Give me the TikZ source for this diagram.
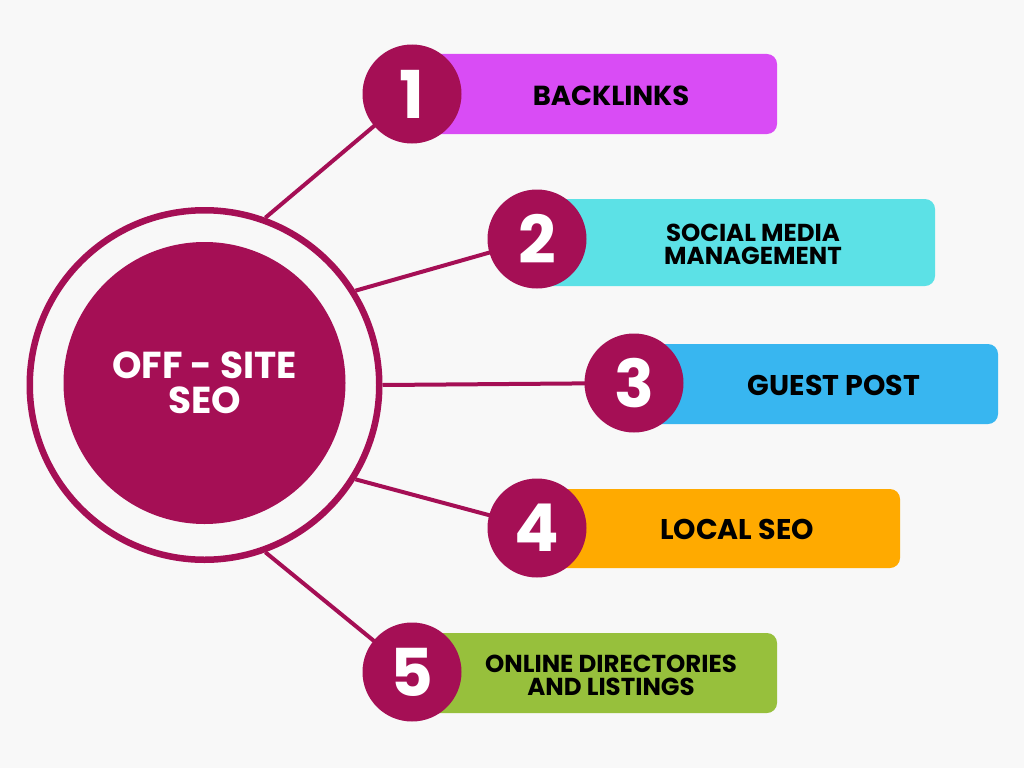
\documentclass[tikz,border=0pt]{standalone}
\usepackage{fontspec}
\setmainfont{Poppins}
\definecolor{bgc}{HTML}{F8F8F8}
\definecolor{maroon}{HTML}{A50F55}
\definecolor{cA}{HTML}{D94CF5}
\definecolor{cB}{HTML}{5CE1E6}
\definecolor{cC}{HTML}{38B6F0}
\definecolor{cD}{HTML}{FFAA00}
\definecolor{cE}{HTML}{97C03C}
\pgfdeclarelayer{bglayer}
\pgfdeclarelayer{linelayer}
\pgfsetlayers{bglayer,linelayer,main}
\tikzset{
  numcirc/.style={circle, fill=maroon, minimum size=99pt, inner sep=0pt, text=white, font=\fontsize{66}{66}\selectfont\bfseries},
  bar/.style={rounded corners=10pt, inner sep=0pt},
  lbl/.style={align=center, text=black, font=\fontsize{24.5}{23}\selectfont\bfseries},
  lblbig/.style={lbl, font=\fontsize{28.5}{24}\selectfont\bfseries},
  conn/.style={draw=maroon, line width=4pt}
}
\begin{document}
\begin{tikzpicture}[x=1pt,y=-1pt]
\begin{pgfonlayer}{bglayer}
\fill[bgc] (0,0) rectangle (1024,768);
\end{pgfonlayer}
\useasboundingbox (0,0) rectangle (1024,768);

% bars
\fill[bar, cA] (412,54) rectangle (777,134);
\fill[bar, cB] (537,199) rectangle (935,286);
\fill[bar, cC] (634,344) rectangle (998,424);
\fill[bar, cD] (537,489) rectangle (900,568);
\fill[bar, cE] (412,633) rectangle (777,713);

% ring and hub
\node[circle, draw=maroon, line width=6.5pt, fill=bgc, minimum size=349.5pt, inner sep=0pt] (ring) at (204.5,385) {};
\node[circle, fill=maroon, minimum size=282pt, inner sep=0pt, align=center, text=white,
      font=\fontsize{37.5}{35}\selectfont\bfseries] (hub) at (204.5,383) {OFF - SITE\\SEO};

% number circles
\node[numcirc] (n1) at (412,94) {1};
\node[numcirc] (n2) at (537,239) {2};
\node[numcirc] (n3) at (634,383) {3};
\node[numcirc] (n4) at (537,528) {4};
\node[numcirc] (n5) at (412,672) {5};

% labels
\node[lbl, font=\fontsize{27.5}{24}\selectfont\bfseries] (t1) at (611,96) {BACKLINKS};
\node[lbl] (t2) at (753,244) {SOCIAL MEDIA\\MANAGEMENT};
\node[lblbig] (t3) at (834,385) {GUEST POST};
\node[lblbig] (t4) at (737,529) {LOCAL SEO};
\node[lbl] (t5) at (611,675) {ONLINE DIRECTORIES\\AND LISTINGS};

% connectors
\begin{pgfonlayer}{linelayer}
\draw[conn] (ring.70) -- (n1.center);
\draw[conn] (ring.32) -- (n2.center);
\draw[conn] (ring.0) -- (n3.center);
\draw[conn] (ring.-32) -- (n4.center);
\draw[conn] (ring.-70) -- (n5.center);
\end{pgfonlayer}
\end{tikzpicture}
\end{document}
